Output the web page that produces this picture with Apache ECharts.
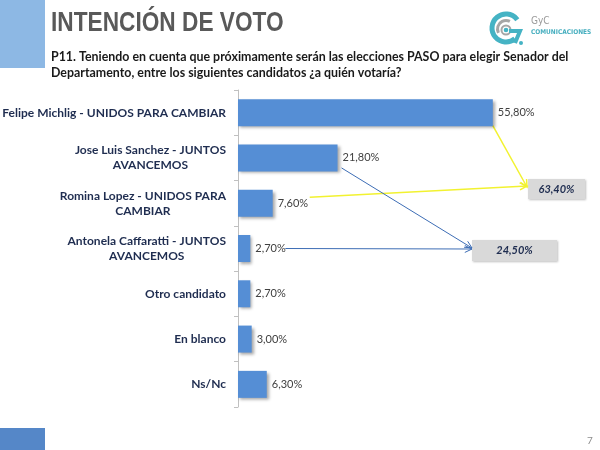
<!DOCTYPE html>
<html lang="es">
<head>
    <meta charset="UTF-8">
    <title>Intención de voto</title>
    <script src="https://cdn.jsdelivr.net/npm/echarts@6/dist/echarts.min.js"></script>
    <style>
        html, body { margin: 0; padding: 0; background: #fff; }
        #chart { width: 600px; height: 450px; }
    </style>
</head>
<body>
    <div id="chart"></div>
    <script>
        // datos
        const categories = [
            'Felipe Michlig - UNIDOS PARA CAMBIAR',
            'Jose Luis Sanchez - JUNTOS\nAVANCEMOS',
            'Romina Lopez - UNIDOS PARA\nCAMBIAR',
            'Antonela Caffaratti - JUNTOS\nAVANCEMOS',
            'Otro candidato',
            'En blanco',
            'Ns/Nc'
        ]
        const values = [55.8, 21.8, 7.6, 2.7, 2.7, 3.0, 6.3]
        const totalUnidos = 63.4
        const totalJuntos = 24.5

        const fmt = v => v.toFixed(2).replace('.', ',') + '%'
        const labelFont = 'Lato, "Open Sans", sans-serif'

        // cada linea se rellena a ambos lados hasta el ancho de la mas larga -> lineas centradas
        const ctx = document.createElement('canvas').getContext('2d')
        ctx.font = 'bold 12px Lato'
        const rich = {}
        categories.forEach((c, i) => {
            const lines = c.split('\n')
            const widths = lines.map(l => ctx.measureText(l).width)
            const w = Math.max(...widths)
            lines.forEach((l, j) => {
                const pad = (w - widths[j]) / 2
                rich['c' + i + '_' + j] = {
                    padding: [0, pad, 0, pad],
                    fontSize: 12,
                    fontWeight: 'bold',
                    fontFamily: labelFont,
                    color: '#1f2d50',
                    lineHeight: 15
                }
            })
        })

        const chart = echarts.init(document.getElementById('chart'))
        chart.setOption({
            animation: false,
            grid: { left: 238, top: 90, width: 274, height: 317, outerBoundsMode: 'none' },
            xAxis: { type: 'value', min: 0, max: 60, show: false },
            yAxis: {
                type: 'category',
                data: categories,
                inverse: true,
                axisLine: { lineStyle: { color: '#c0c0c0' } },
                axisTick: { show: true, length: 4, lineStyle: { color: '#c0c0c0' } },
                axisLabel: {
                    margin: 12,
                    formatter: (v, i) => v.split('\n').map((l, j) => '{c' + i + '_' + j + '|' + l + '}').join('\n'),
                    rich: rich
                }
            },
            series: [{
                type: 'bar',
                data: values,
                barWidth: 27,
                itemStyle: {
                    color: '#558ed5',
                    shadowColor: 'rgba(0,0,0,0.35)',
                    shadowBlur: 3,
                    shadowOffsetX: 2,
                    shadowOffsetY: 2
                },
                label: {
                    show: true,
                    position: 'right',
                    distance: 5,
                    color: '#404040',
                    fontSize: 11,
                    fontFamily: labelFont,
                    formatter: p => fmt(p.value)
                }
            }]
        })

        // puntos de partida de las flechas, a partir de los datos
        const px = (i, dx, dy) => {
            const p = chart.convertToPixel({ gridIndex: 0 }, [values[i], i])
            return [p[0] + dx, p[1] + dy]
        }

        // cajas de totales
        const box1 = { x: 528, y: 179, w: 57, h: 20 }
        const box2 = { x: 472, y: 240, w: 85, h: 21 }

        function arrow(from, to, color, width) {
            const ang = Math.atan2(to[1] - from[1], to[0] - from[0])
            const len = 8, spread = 0.45
            const h1 = [to[0] - len * Math.cos(ang - spread), to[1] - len * Math.sin(ang - spread)]
            const h2 = [to[0] - len * Math.cos(ang + spread), to[1] - len * Math.sin(ang + spread)]
            return [
                { type: 'line', shape: { x1: from[0], y1: from[1], x2: to[0], y2: to[1] },
                  style: { stroke: color, lineWidth: width } },
                { type: 'polyline', shape: { points: [h1, to, h2] },
                  style: { stroke: color, lineWidth: width, fill: null } }
            ]
        }

        function box(b, txt) {
            return [
                { type: 'rect', shape: { x: b.x, y: b.y, width: b.w, height: b.h },
                  style: { fill: '#d9d9d9', shadowColor: 'rgba(0,0,0,0.25)', shadowBlur: 2, shadowOffsetX: 1, shadowOffsetY: 1 } },
                { type: 'text', x: b.x + b.w / 2, y: b.y + b.h / 2,
                  style: { text: txt, fill: '#1f2d50', fontSize: 11, fontWeight: 'bold', fontStyle: 'italic',
                           fontFamily: labelFont, align: 'center', verticalAlign: 'middle' } }
            ]
        }

        const yellow = '#f2f230'
        const blue = '#3d6db5'

        const elements = [
            // franja superior e inferior
            { type: 'rect', shape: { x: 0, y: 0, width: 45, height: 68 }, style: { fill: '#8db8e4' } },
            { type: 'rect', shape: { x: 0, y: 428, width: 45, height: 22 }, style: { fill: '#5587c8' } },
            // titulo
            { type: 'text', x: 51, y: 9, scaleX: 0.81,
              style: { text: 'INTENCIÓN DE VOTO', fill: '#595959', fontSize: 28, fontWeight: 'bold',
                       fontFamily: '"Liberation Sans", Arial, sans-serif', verticalAlign: 'top' } },
            // pregunta
            { type: 'text', x: 51, y: 49,
              style: { text: 'P11. Teniendo en cuenta que próximamente serán las elecciones PASO para elegir Senador del\nDepartamento, entre los siguientes candidatos ¿a quién votaría?',
                       fill: '#1a1a1a', fontSize: 12.4, fontWeight: 'bold', fontFamily: labelFont,
                       lineHeight: 16, verticalAlign: 'top' } },
            // logo
            { type: 'arc', shape: { cx: 506, cy: 28, r: 14, startAngle: Math.PI * 0.28, endAngle: Math.PI * 1.8 },
              style: { stroke: '#45b3c4', lineWidth: 5, fill: null } },
            { type: 'arc', shape: { cx: 506, cy: 29, r: 8.5, startAngle: Math.PI * 0.85, endAngle: Math.PI * 1.65 },
              style: { stroke: '#a6a6a6', lineWidth: 3, fill: null } },
            { type: 'circle', shape: { cx: 506, cy: 30, r: 4.5 }, style: { fill: null, stroke: '#a6a6a6', lineWidth: 2 } },
            { type: 'circle', shape: { cx: 506, cy: 30, r: 2.3 }, style: { fill: '#45b3c4' } },
            { type: 'polyline', shape: { points: [[509, 31], [520, 31], [515, 43]] },
              style: { stroke: '#45b3c4', lineWidth: 4, fill: null } },
            { type: 'circle', shape: { cx: 521, cy: 43, r: 2 }, style: { fill: '#45b3c4' } },
            { type: 'text', x: 531, y: 21,
              style: { text: 'GyC', fill: '#9a9a9a', fontSize: 10, fontFamily: '"DejaVu Sans Condensed", sans-serif', verticalAlign: 'middle' } },
            { type: 'text', x: 531, y: 32,
              style: { text: 'COMUNICACIONES', fill: '#45aebf', fontSize: 6.5, fontWeight: 'bold',
                       fontFamily: '"DejaVu Sans Condensed", sans-serif', verticalAlign: 'middle' } },
            // numero de pagina
            { type: 'text', x: 587, y: 441,
              style: { text: '7', fill: '#8c8c8c', fontSize: 10, fontFamily: labelFont, verticalAlign: 'middle' } }
        ]
            .concat(box(box1, fmt(totalUnidos)))
            .concat(box(box2, fmt(totalJuntos)))
            .concat(arrow(px(0, 0, 13), [box1.x - 1, box1.y + 8], yellow, 1.5))
            .concat(arrow(px(2, 37, -6), [box1.x - 1, box1.y + 7], yellow, 1.5))
            .concat(arrow(px(1, 4, 10), [box2.x, box2.y + 8], blue, 1))
            .concat(arrow(px(3, 35, 0), [box2.x, box2.y + 9], blue, 1))

        chart.setOption({ graphic: { elements: elements } })
    </script>
</body>
</html>
